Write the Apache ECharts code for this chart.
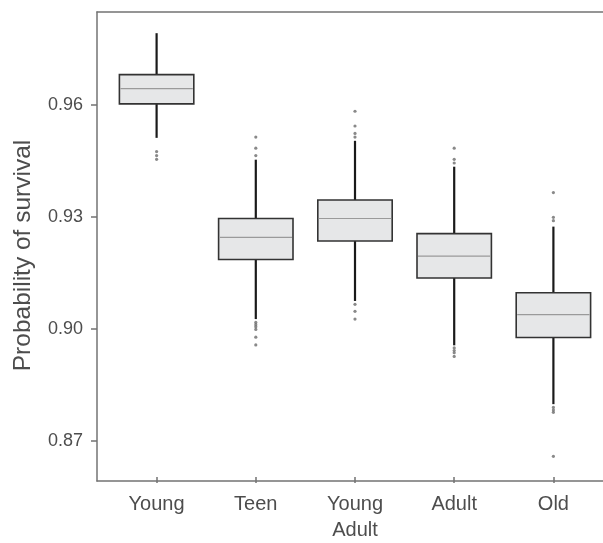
<!DOCTYPE html>
<html>
<head>
<meta charset="utf-8">
<script src="https://cdn.jsdelivr.net/npm/echarts@6/dist/echarts.min.js"></script>
<style>
html,body{margin:0;padding:0;background:#fff;}
#chart{width:603px;height:543px;}
</style>
</head>
<body>
<div id="chart"></div>
<script>
const categories = ['Young', 'Teen', 'Young\nAdult', 'Adult', 'Old'];
const whiskerLow  = [0.9509, 0.9019, 0.9068, 0.8948, 0.8789];
const q1          = [0.9601, 0.9180, 0.9230, 0.9130, 0.8969];
const median      = [0.9642, 0.9240, 0.9291, 0.9189, 0.9031];
const q3          = [0.9680, 0.9291, 0.9341, 0.9250, 0.9090];
const whiskerHigh = [0.9792, 0.9450, 0.9501, 0.9431, 0.9269];
const outliers = [
  [0.9472, 0.9461, 0.9451],
  [0.9511, 0.9481, 0.9461, 0.9010, 0.9004, 0.8998, 0.8991, 0.8970, 0.8949],
  [0.9581, 0.9541, 0.9521, 0.9511, 0.9059, 0.9040, 0.9019],
  [0.9481, 0.9451, 0.9441, 0.8941, 0.8934, 0.8928, 0.8918],
  [0.9361, 0.9294, 0.9285, 0.8780, 0.8773, 0.8767, 0.8648]
];
const yTicks = [0.87, 0.90, 0.93, 0.96];
const yMin = 0.8592, yMax = 0.98493;

const boxData = categories.map((c, i) => [i, whiskerLow[i], q1[i], median[i], q3[i], whiskerHigh[i]]);
const outlierData = [];
outliers.forEach((arr, i) => arr.forEach(v => outlierData.push([i, v])));

const FONT = "'Liberation Sans', Arial, Helvetica, sans-serif";
const AX = '#737373';
const TXT = '#4d4d4d';

const chart = echarts.init(document.getElementById('chart'), null, {renderer: 'canvas'});
chart.setOption({
  animation: false,
  backgroundColor: '#ffffff',
  grid: [
    {left: 97, right: 0, top: 12, bottom: 62},
    {left: 107, right: 0, top: 12, bottom: 62}
  ],
  xAxis: [
    {gridIndex: 0, type: 'value', min: 0, max: 1, position: 'bottom',
     axisLine: {show: true, lineStyle: {color: AX, width: 1.5}},
     axisTick: {show: false}, axisLabel: {show: false}, splitLine: {show: false}},
    {gridIndex: 0, type: 'value', min: 0, max: 1, position: 'top',
     axisLine: {show: true, lineStyle: {color: AX, width: 1.5}},
     axisTick: {show: false}, axisLabel: {show: false}, splitLine: {show: false}},
    {gridIndex: 1, type: 'category', data: categories, boundaryGap: true,
     axisLine: {show: false},
     axisTick: {show: true, alignWithLabel: true, length: 6, lineStyle: {color: AX, width: 1.5}},
     axisLabel: {margin: 14, fontSize: 20, lineHeight: 26, color: TXT, fontFamily: FONT},
     splitLine: {show: false}}
  ],
  yAxis: [
    {gridIndex: 0, type: 'value', min: yMin, max: yMax,
     axisLine: {show: true, lineStyle: {color: AX, width: 1.5}},
     axisTick: {show: true, length: 6, customValues: yTicks, lineStyle: {color: AX, width: 1.5}},
     axisLabel: {customValues: yTicks, margin: 14, fontSize: 18, color: TXT, fontFamily: FONT,
                 formatter: v => v.toFixed(2)},
     splitLine: {show: false},
     name: 'Probability of survival', nameLocation: 'middle', nameGap: 61, nameRotate: 90,
     nameTextStyle: {fontSize: 24.5, color: TXT, fontFamily: FONT, padding: [0, 18, 0, 0]}},
    {gridIndex: 1, type: 'value', min: yMin, max: yMax, show: false, splitLine: {show: false}}
  ],
  series: [
    {
      type: 'custom', xAxisIndex: 2, yAxisIndex: 1,
      data: boxData,
      encode: {x: 0, y: [1, 2, 3, 4, 5]},
      renderItem: function (params, api) {
        const i = api.value(0);
        const pLow = api.coord([i, api.value(1)]);
        const pQ1 = api.coord([i, api.value(2)]);
        const pMed = api.coord([i, api.value(3)]);
        const pQ3 = api.coord([i, api.value(4)]);
        const pHigh = api.coord([i, api.value(5)]);
        const band = api.size([1, 0])[0];
        const w = band * 0.75;
        const cx = pMed[0];
        return {
          type: 'group',
          children: [
            {type: 'line', shape: {x1: cx, y1: pHigh[1], x2: cx, y2: pLow[1]},
             style: {stroke: '#1a1a1a', lineWidth: 2.2}},
            {type: 'rect', shape: {x: cx - w / 2, y: pQ3[1], width: w, height: pQ1[1] - pQ3[1]},
             style: {fill: '#e6e7e8', stroke: '#333333', lineWidth: 1.6}},
            {type: 'line', shape: {x1: cx - w / 2 + 1, y1: pMed[1], x2: cx + w / 2 - 1, y2: pMed[1]},
             style: {stroke: '#9a9a9a', lineWidth: 1.2}}
          ]
        };
      }
    },
    {
      type: 'scatter', xAxisIndex: 2, yAxisIndex: 1,
      data: outlierData, symbol: 'circle', symbolSize: 3.2,
      itemStyle: {color: '#6b6b6b'}
    }
  ]
});
</script>
</body>
</html>
